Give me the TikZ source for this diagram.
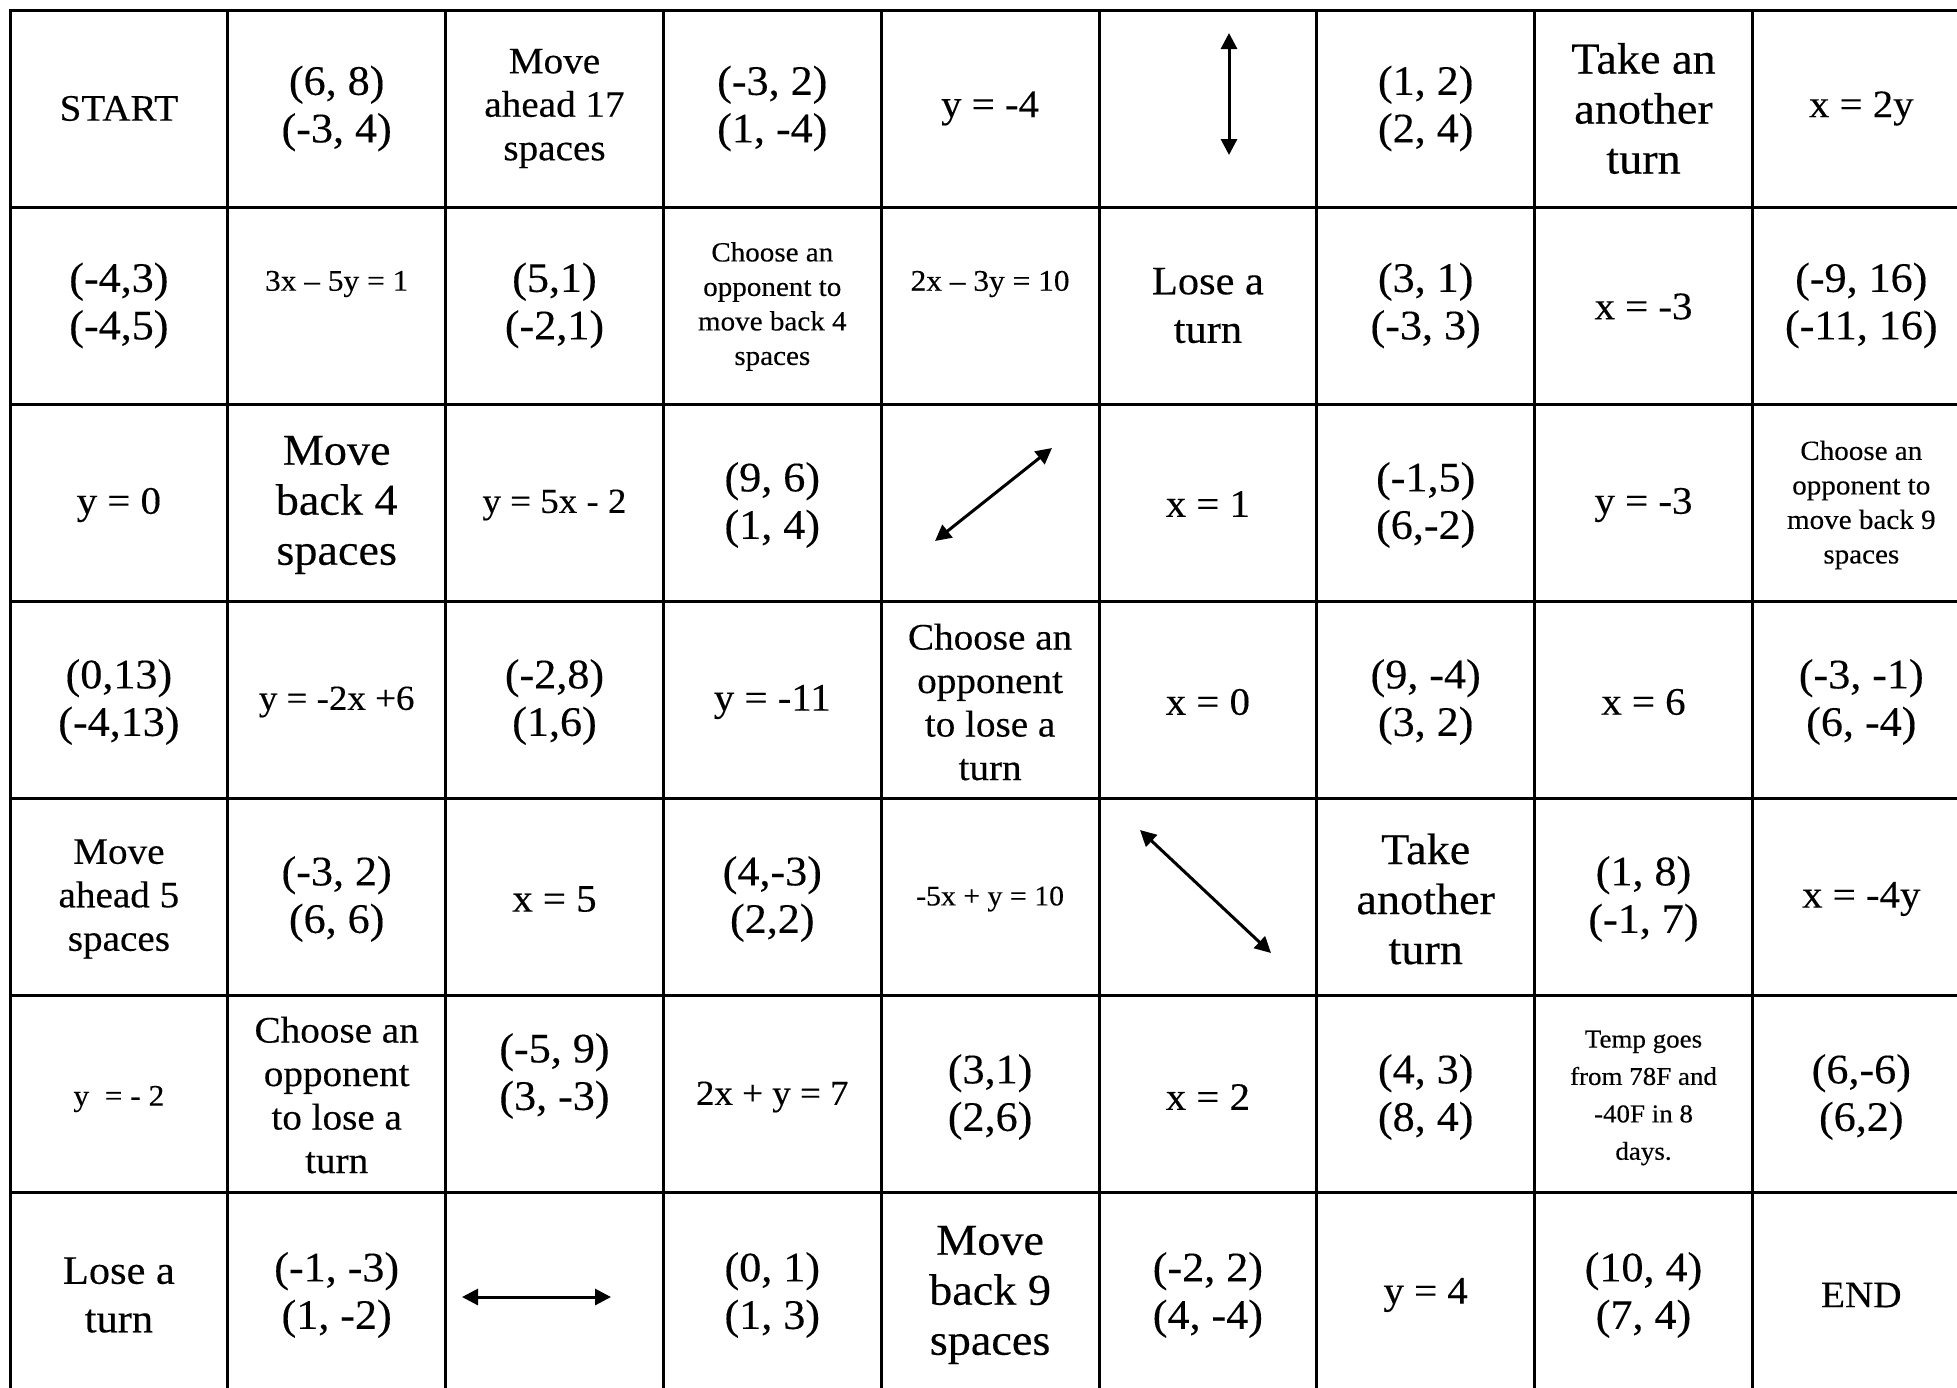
\documentclass[tikz,border=0pt]{standalone}
\usepackage{fontspec}
\setmainfont{Liberation Serif}[FakeStretch=1.05,FakeBold=0.3]
\usetikzlibrary{arrows.meta}
\tikzset{
  gridline/.style={line width=3pt, draw=black},
  dblarrow/.style={line width=3pt, {Triangle[length=16pt,width=16pt]}-{Triangle[length=16pt,width=16pt]}},
  cell/.style={inner sep=0pt, align=center, text=black},
  pairtxt/.style={cell, font=\fontsize{42}{47.5}\selectfont},
  eqtxt/.style={cell, font=\fontsize{38.9}{44}\selectfont},
  midtxt/.style={cell, font=\fontsize{37.3}{43.5}\selectfont},
  losetxt/.style={cell, font=\fontsize{40.4}{48.5}\selectfont},
  bigtxt/.style={cell, font=\fontsize{44}{50}\selectfont},
  medeq/.style={cell, font=\fontsize{35.2}{40}\selectfont},
  smalleq/.style={cell, font=\fontsize{29.9}{34.5}\selectfont},
  smalltxt/.style={cell, font=\fontsize{27.7}{34.5}\selectfont},
  temptxt/.style={cell, font=\fontsize{25.7}{37.4}\selectfont},
}
\begin{document}
\begin{tikzpicture}[x=1pt,y=-1pt]
\useasboundingbox (0,0) rectangle (1957,1387);
\clip (0,0) rectangle (1957,1387);
\fill[white] (0,0) rectangle (1957,1387);
% grid
\draw[gridline] (10,10) rectangle (1970,1389);
\foreach \i in {1,...,8} \draw[gridline] ({10+217.8*\i},10) -- ({10+217.8*\i},1389);
\foreach \j in {1,...,6} \draw[gridline] (10,{10+197*\j}) -- (1970,{10+197*\j});
% row 1
\node[midtxt]  (r1c1) at (118.9,108.5) {START};
\node[pairtxt] (r1c2) at (336.7,108.5) {(6, 8)\\(-3, 4)};
\node[midtxt]  (r1c3) at (554.5,108.5) {Move\\ahead 17\\spaces};
\node[pairtxt] (r1c4) at (772.3,108.5) {(-3, 2)\\(1, -4)};
\node[eqtxt]   (r1c5) at (990.1,108.5) {y = -4};
\node[pairtxt] (r1c7) at (1425.7,108.5) {(1, 2)\\(2, 4)};
\node[bigtxt]  (r1c8) at (1643.5,108.5) {Take an\\another\\turn};
\node[eqtxt]   (r1c9) at (1861.3,108.5) {x = 2y};
% row 2
\node[pairtxt] (r2c1) at (118.9,305.5) {(-4,3)\\(-4,5)};
\node[smalleq] (r2c2) at (336.7,284) {3x – 5y = 1};
\node[pairtxt] (r2c3) at (554.5,305.5) {(5,1)\\(-2,1)};
\node[smalltxt](r2c4) at (772.3,306.5) {Choose an\\opponent to\\move back 4\\spaces};
\node[smalleq] (r2c5) at (990.1,284) {2x – 3y = 10};
\node[losetxt] (r2c6) at (1207.9,305.5) {Lose a\\turn};
\node[pairtxt] (r2c7) at (1425.7,305.5) {(3, 1)\\(-3, 3)};
\node[eqtxt]   (r2c8) at (1643.5,306.5) {x = -3};
\node[pairtxt] (r2c9) at (1861.3,305.5) {(-9, 16)\\(-11, 16)};
% row 3
\node[eqtxt]   (r3c1) at (118.9,505) {y = 0};
\node[bigtxt]  (r3c2) at (336.7,505) {Move\\back 4\\spaces};
\node[medeq]   (r3c3) at (554.5,505) {y = 5x - 2};
\node[pairtxt] (r3c4) at (772.3,505) {(9, 6)\\(1, 4)};
\node[eqtxt]   (r3c6) at (1207.9,504) {x = 1};
\node[pairtxt] (r3c7) at (1425.7,505) {(-1,5)\\(6,-2)};
\node[eqtxt]   (r3c8) at (1643.5,505) {y = -3};
\node[smalltxt](r3c9) at (1861.3,505) {Choose an\\opponent to\\move back 9\\spaces};
% row 4
\node[pairtxt] (r4c1) at (118.9,702) {(0,13)\\(-4,13)};
\node[medeq]   (r4c2) at (336.7,702) {y = -2x +6};
\node[pairtxt] (r4c3) at (554.5,702) {(-2,8)\\(1,6)};
\node[eqtxt]   (r4c4) at (772.3,702) {y = -11};
\node[midtxt]  (r4c5) at (990.1,702) {Choose an\\opponent\\to lose a\\turn};
\node[eqtxt]   (r4c6) at (1207.9,702) {x = 0};
\node[pairtxt] (r4c7) at (1425.7,702) {(9, -4)\\(3, 2)};
\node[eqtxt]   (r4c8) at (1643.5,702) {x = 6};
\node[pairtxt] (r4c9) at (1861.3,702) {(-3, -1)\\(6, -4)};
% row 5
\node[midtxt]  (r5c1) at (118.9,899) {Move\\ahead 5\\spaces};
\node[pairtxt] (r5c2) at (336.7,899) {(-3, 2)\\(6, 6)};
\node[eqtxt]   (r5c3) at (554.5,899) {x = 5};
\node[pairtxt] (r5c4) at (772.3,899) {(4,-3)\\(2,2)};
\node[smalleq] (r5c5) at (990.1,899) {\fontsize{28.4}{33}\selectfont -5x + y = 10};
\node[bigtxt]  (r5c7) at (1425.7,899) {Take\\another\\turn};
\node[pairtxt] (r5c8) at (1643.5,899) {(1, 8)\\(-1, 7)};
\node[eqtxt]   (r5c9) at (1861.3,899) {x = -4y};
% row 6
\node[smalleq] (r6c1) at (118.9,1099) {y\ \ = - 2};
\node[midtxt]  (r6c2) at (336.7,1095) {Choose an\\opponent\\to lose a\\turn};
\node[pairtxt] (r6c3) at (554.5,1076) {(-5, 9)\\(3, -3)};
\node[medeq]   (r6c4) at (772.3,1097) {2x + y = 7};
\node[pairtxt] (r6c5) at (990.1,1097) {(3,1)\\(2,6)};
\node[eqtxt]   (r6c6) at (1207.9,1097) {x = 2};
\node[pairtxt] (r6c7) at (1425.7,1097) {(4, 3)\\(8, 4)};
\node[temptxt] (r6c8) at (1643.5,1098) {Temp goes\\from 78F and\\-40F in 8\\days.};
\node[pairtxt] (r6c9) at (1861.3,1097) {(6,-6)\\(6,2)};
% row 7
\node[losetxt] (r7c1) at (118.9,1295) {Lose a\\turn};
\node[pairtxt] (r7c2) at (336.7,1295) {(-1, -3)\\(1, -2)};
\node[pairtxt] (r7c4) at (772.3,1295) {(0, 1)\\(1, 3)};
\node[bigtxt]  (r7c5) at (990.1,1295) {Move\\back 9\\spaces};
\node[pairtxt] (r7c6) at (1207.9,1295) {(-2, 2)\\(4, -4)};
\node[eqtxt]   (r7c7) at (1425.7,1295) {y = 4};
\node[pairtxt] (r7c8) at (1643.5,1295) {(10, 4)\\(7, 4)};
\node[midtxt]  (r7c9) at (1861.3,1295) {END};
% arrows
\coordinate (a1s) at (1229,33);
\coordinate (a1e) at (1229,155);
\draw[dblarrow] (a1s) -- (a1e);
\coordinate (a2s) at (935,541);
\coordinate (a2e) at (1052,448);
\draw[dblarrow] (a2s) -- (a2e);
\coordinate (a3s) at (1140,830);
\coordinate (a3e) at (1271,953);
\draw[dblarrow] (a3s) -- (a3e);
\coordinate (a4s) at (462,1297);
\coordinate (a4e) at (611,1297);
\draw[dblarrow] (a4s) -- (a4e);
\end{tikzpicture}
\end{document}
